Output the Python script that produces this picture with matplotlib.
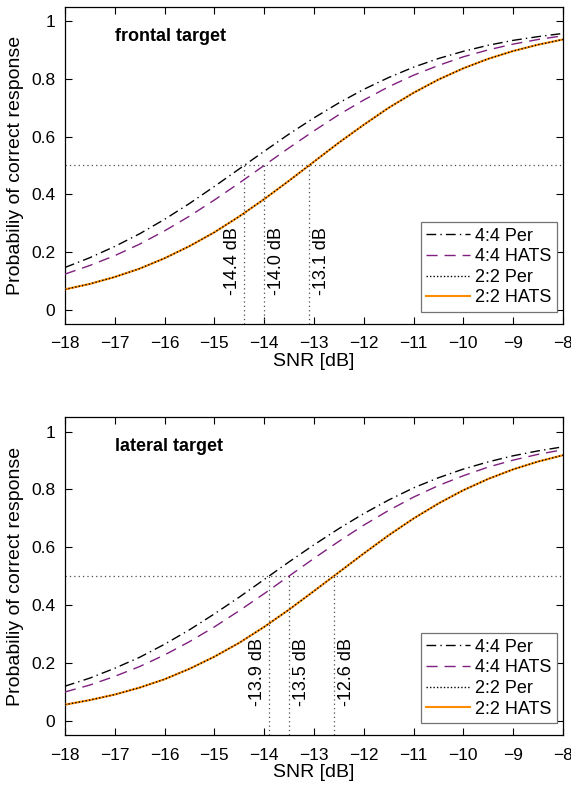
import numpy as np
import matplotlib
matplotlib.use("Agg")
import matplotlib.pyplot as plt

plt.rcParams['font.family'] = ['Liberation Sans', 'DejaVu Sans']

# SNR grid (dB) and values
snr = [-18, -17.5, -17, -16.5, -16, -15.5, -15, -14.5, -14, -13.5, -13,
       -12.5, -12, -11.5, -11, -10.5, -10, -9.5, -9, -8.5, -8]

# frontal target
front_44_per = [0.146, 0.180, 0.219, 0.263, 0.313, 0.368, 0.427, 0.488, 0.549, 0.609, 0.665,
                0.717, 0.764, 0.805, 0.841, 0.871, 0.896, 0.917, 0.934, 0.947, 0.958]
front_44_hats = [0.123, 0.153, 0.187, 0.227, 0.273, 0.324, 0.380, 0.439, 0.500, 0.561, 0.620,
                 0.676, 0.727, 0.773, 0.813, 0.847, 0.877, 0.901, 0.921, 0.937, 0.950]
front_22_per = [0.070, 0.089, 0.113, 0.142, 0.178, 0.220, 0.268, 0.323, 0.383, 0.447, 0.513,
                0.579, 0.641, 0.700, 0.752, 0.798, 0.837, 0.870, 0.897, 0.919, 0.937]
front_22_hats = list(front_22_per)
front_thr = [-14.4, -14.0, -13.1]

# lateral target
lat_44_per = [0.119, 0.147, 0.181, 0.219, 0.264, 0.314, 0.369, 0.427, 0.488, 0.549, 0.608,
              0.664, 0.716, 0.763, 0.805, 0.840, 0.870, 0.895, 0.916, 0.933, 0.947]
lat_44_hats = [0.099, 0.123, 0.153, 0.187, 0.227, 0.273, 0.324, 0.380, 0.439, 0.500, 0.561,
               0.620, 0.676, 0.727, 0.773, 0.813, 0.847, 0.877, 0.901, 0.921, 0.937]
lat_22_per = [0.055, 0.071, 0.090, 0.114, 0.143, 0.179, 0.221, 0.269, 0.324, 0.384, 0.448,
              0.513, 0.578, 0.641, 0.699, 0.751, 0.797, 0.836, 0.869, 0.896, 0.918]
lat_22_hats = list(lat_22_per)
lat_thr = [-13.9, -13.5, -12.6]

labels = ['4:4 Per', '4:4 HATS', '2:2 Per', '2:2 HATS']

fig = plt.figure(figsize=(5.71, 7.89), dpi=100)
ax1 = fig.add_axes([0.1138, 0.5894, 0.872, 0.4018])
ax2 = fig.add_axes([0.1138, 0.0684, 0.872, 0.4030])


def panel(ax, title, c44p, c44h, c22p, c22h, thr):
    ax.plot(snr, c44p, color='black', lw=1.0, ls=(0, (7, 3, 1, 3)), label=labels[0], zorder=3)
    ax.plot(snr, c44h, color='#7f1f7f', lw=1.0, ls=(0, (8, 5)), label=labels[1], zorder=3)
    ax.plot(snr, c22p, color='black', lw=1.0, ls=(0, (1, 1.5)), label=labels[2], zorder=5)
    ax.plot(snr, c22h, color='#ff8c00', lw=1.5, label=labels[3], zorder=4)

    ax.axhline(0.5, color='0.3', lw=0.9, ls=(0, (1, 2.5)), zorder=2)
    for i, t in enumerate(thr):
        ax.plot([t, t], [-0.05, 0.5], color='0.3', lw=0.9, ls=(0, (1, 2.5)), zorder=2)
        if i == 0:
            ax.text(t - 0.06, 0.05, f'{t:.1f} dB', rotation=90, ha='right', va='bottom', fontsize=13)
        else:
            ax.text(t + 0.08, 0.05, f'{t:.1f} dB', rotation=90, ha='left', va='bottom', fontsize=13)

    ax.text(-17.0, 0.947, title, fontsize=13, fontweight='bold', ha='left', va='center')

    ax.set_xlim(-18, -8)
    ax.set_ylim(-0.05, 1.05)
    ax.set_xticks(np.arange(-18, -7, 1))
    ax.set_yticks([0, 0.2, 0.4, 0.6, 0.8, 1])
    ax.set_yticklabels(['0', '0.2', '0.4', '0.6', '0.8', '1'])
    ax.tick_params(axis='both', direction='in', top=True, right=True, length=5, width=0.8,
                   labelsize=12.5)
    ax.tick_params(axis='x', pad=9)
    ax.tick_params(axis='y', pad=7)
    ax.set_xlabel('SNR [dB]', fontsize=14, labelpad=1)
    ax.set_ylabel('Probabiliy of correct response', fontsize=14, labelpad=5)
    for s in ax.spines.values():
        s.set_linewidth(0.9)

    leg = ax.legend(loc='lower right', bbox_to_anchor=(0.988, 0.038), fontsize=13,
                    handlelength=2.4, handletextpad=0.3, borderpad=0.3, labelspacing=0.2,
                    fancybox=False, framealpha=1, borderaxespad=0)
    leg.get_frame().set_edgecolor('0.45')
    leg.get_frame().set_linewidth(0.9)


panel(ax1, 'frontal target', front_44_per, front_44_hats, front_22_per, front_22_hats, front_thr)
panel(ax2, 'lateral target', lat_44_per, lat_44_hats, lat_22_per, lat_22_hats, lat_thr)

fig.savefig('out.png', dpi=100)
